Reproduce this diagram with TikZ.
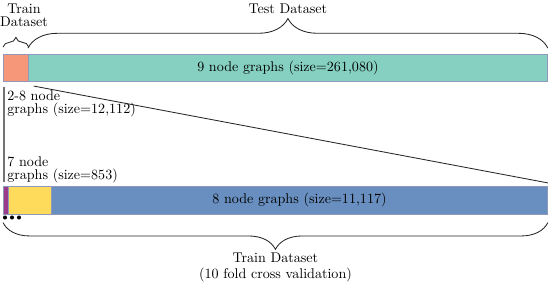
\documentclass[tikz,border=0pt]{standalone}
\usetikzlibrary{decorations.pathreplacing}
\definecolor{cOrange}{HTML}{F6977A}
\definecolor{cTeal}{HTML}{85D0C0}
\definecolor{cPurple}{HTML}{9B3C8A}
\definecolor{cYellow}{HTML}{FFDB5C}
\definecolor{cBlue}{HTML}{688FBF}
\definecolor{cBorder}{HTML}{9098BC}
\begin{document}
\begin{tikzpicture}[x=0.71pt,y=-0.71pt,
  seg/.style={draw=cBorder, line width=0.6pt, inner sep=0pt, anchor=north west},
  lbl/.style={font=\fontsize{10}{9.5}\selectfont, align=center, inner sep=0pt},
  lbll/.style={font=\fontsize{10}{9.5}\selectfont, align=left, inner sep=0pt, anchor=west},
  bracedraw/.style={decorate, line width=0.6pt, draw=black!85},
  dotnode/.style={circle, fill=black, inner sep=0pt, minimum size=2.9pt}]
\useasboundingbox (0,0) rectangle (550,286);
% top bar
\node[seg, fill=cOrange, minimum width={25*0.71pt}, minimum height={27*0.71pt}] (o) at (3,54) {};
\node[seg, fill=cTeal, minimum width={519*0.71pt}, minimum height={27*0.71pt}] (t) at (28,54) {};
\node at (t.center) {9 node graphs (size=261,080)};
% bottom bar
\node[seg, fill=cPurple, minimum width={5*0.71pt}, minimum height={28*0.71pt}] (p) at (3,186) {};
\node[seg, fill=cYellow, minimum width={43*0.71pt}, minimum height={28*0.71pt}] (y) at (8,186) {};
\node[seg, fill=cBlue, minimum width={496*0.71pt}, minimum height={28*0.71pt}] (b) at (51,186) {};
\node at (b.center) {8 node graphs (size=11,117)};
% zoom lines
\draw[black!55, line width=0.8pt] ([xshift=0.7pt,yshift=-3.5pt]o.south west) -- ([xshift=0.7pt,yshift=3pt]p.north west);
\draw[black!85, line width=0.6pt] ([xshift=3.5pt,yshift=-3pt]o.south east) -- ([yshift=2.2pt]b.north east);
% braces top
\draw[bracedraw, decoration={brace, amplitude=7pt}] ([yshift=4.8pt]o.north west) -- ([yshift=4.8pt]o.north east);
\draw[bracedraw, decoration={brace, amplitude=21pt}] ([yshift=4.2pt]t.north west) -- node[above=24pt, inner sep=0pt] (testlbl) {Test Dataset} ([yshift=4.2pt]t.north east);
\node[lbl] (trainlbl) at (24,15.5) {Train\\Dataset};
% side labels
\node[lbll] (l28) at (7,104) {2-8 node\\graphs (size=12,112)};
\node[lbll] (l7) at (7,170) {7 node\\graphs (size=853)};
% dots
\node[dotnode] (d1) at (5,217.5) {};
\node[dotnode] (d2) at (12,217.5) {};
\node[dotnode] (d3) at (19,217.5) {};
% bottom brace
\draw[bracedraw, decoration={brace, mirror, amplitude=19pt}] ([yshift=-5.5pt]p.south west) -- node[below=21.5pt, inner sep=0pt, align=center, font=\fontsize{10}{11}\selectfont] (trainlbl2) {Train Dataset\\(10 fold cross validation)} ([yshift=-5.5pt]b.south east);
\end{tikzpicture}
\end{document}
